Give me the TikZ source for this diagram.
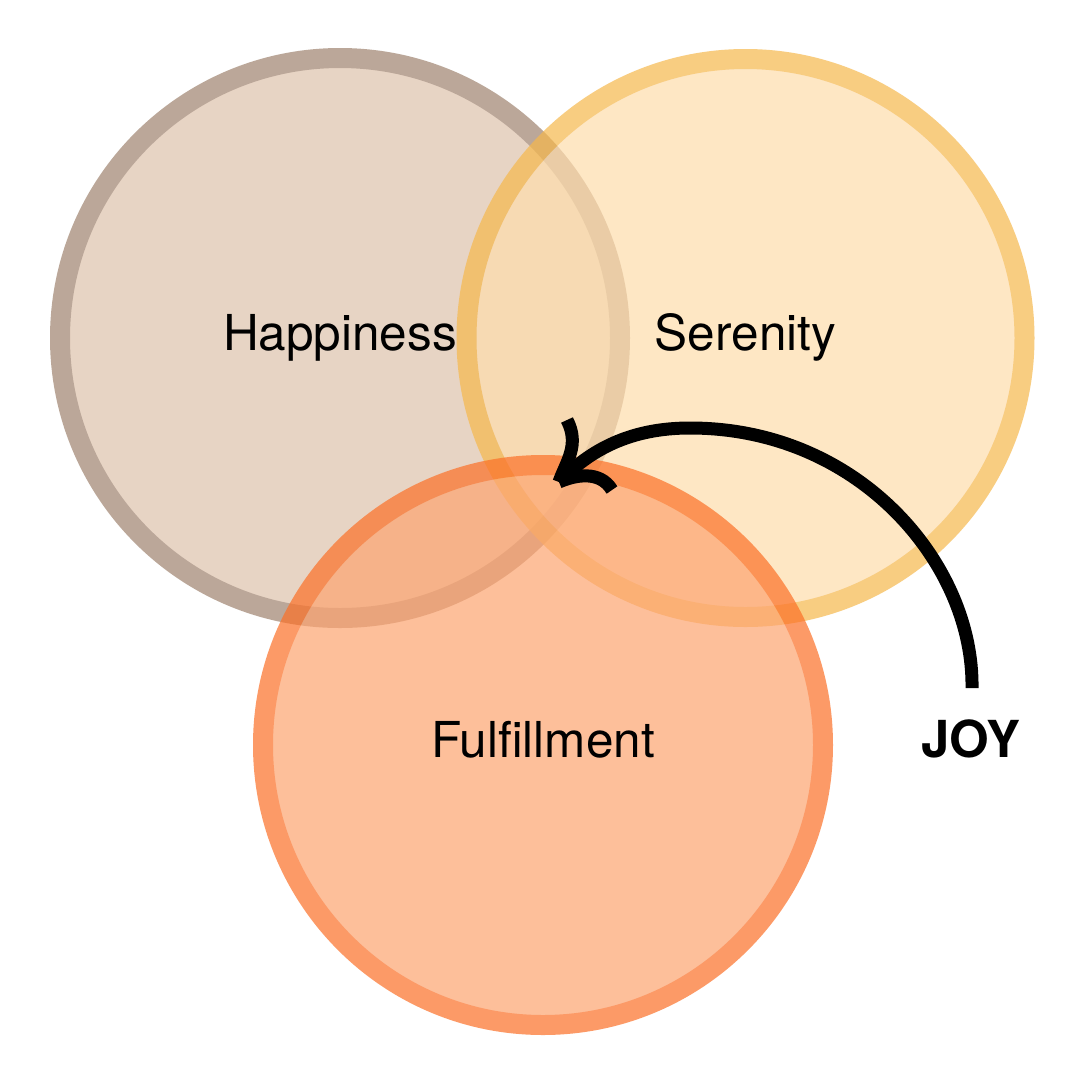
\documentclass[tikz,border=0pt]{standalone}
\usepackage{fontspec}
\setmainfont{TeX Gyre Heros}
\definecolor{hapfill}{RGB}{222,194,171}
\definecolor{hapring}{RGB}{159,131,111}
\definecolor{serfill}{RGB}{254,221,172}
\definecolor{serring}{RGB}{246,184,76}
\definecolor{fulfill}{RGB}{253,164,112}
\definecolor{fulring}{RGB}{252,112,39}
\begin{document}
\begin{tikzpicture}[x=1pt,y=-1pt,
  ringcircle/.style={line width=20pt},
  lbl/.style={anchor=base,font=\fontsize{49.5}{58}\selectfont,inner sep=0pt},
  joylbl/.style={anchor=base,font=\fontsize{51}{60}\selectfont\bfseries,inner sep=0pt},
  arrowline/.style={line width=13pt,black,line cap=butt}]
\fill[white] (0,0) rectangle (1080,1080);
\useasboundingbox (0,0) rectangle (1080,1080);
\coordinate (hc) at (340,338);
\coordinate (sc) at (745.5,338);
\coordinate (fc) at (543,745);
\begin{scope}[transparency group,opacity=0.7]
  \draw[ringcircle,draw=hapring,fill=hapfill] (hc) circle[radius=280];
\end{scope}
\begin{scope}[transparency group,opacity=0.7]
  \draw[ringcircle,draw=serring,fill=serfill] (sc) circle[radius=279];
\end{scope}
\begin{scope}[transparency group,opacity=0.7]
  \draw[ringcircle,draw=fulring,fill=fulfill] (fc) circle[radius=280];
\end{scope}
\node[lbl] (hap) at (340,350) {Happiness};
\node[lbl] (ser) at (745.5,350) {Serenity};
\node[lbl] (ful) at (543,757) {Fulfillment};
\node[joylbl] (joy) at (971,757) {JOY};
\coordinate (start) at (972,688);
\coordinate (tip) at (559,482);
\coordinate (top) at (690,428);
\draw[arrowline] (start) .. controls (974,565) and (860,428) .. (top)
  .. controls (630,428) and (590,450) .. (tip);
\draw[arrowline] (tip) .. controls (566,462) and (580,445) .. (567,420);
\draw[arrowline] (tip) .. controls (575,475) and (600,470) .. (612,490);
\end{tikzpicture}
\end{document}
